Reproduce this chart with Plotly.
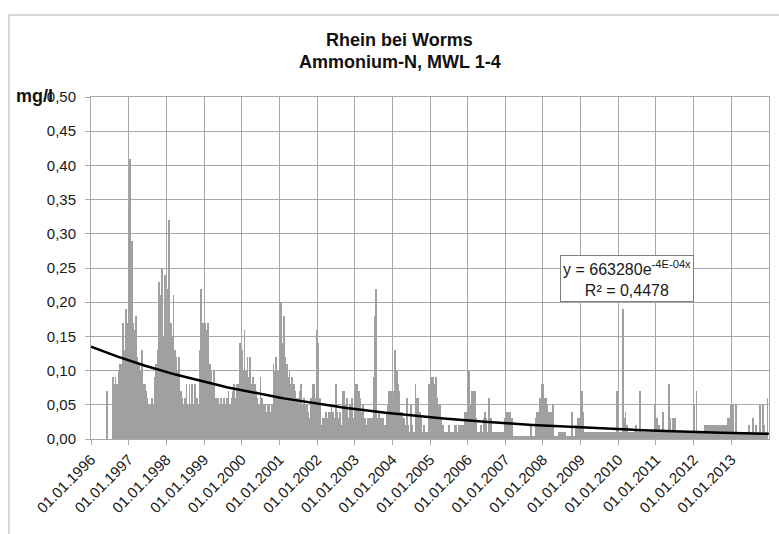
import numpy as np
import pandas as pd
import plotly.graph_objects as go

# Ammonium-N concentrations (mg/l), fortnightly samples, one list per calendar year
v1996 = [None, None, None, None, None, None, None, None, None, None, None,
         0.07, None, None, None,
         0.09, 0.08, 0.09, 0.08, 0.10, 0.11, 0.11, 0.17, 0.13, 0.19, 0.17]
v1997 = [0.34, 0.41, 0.29, 0.17, 0.16, 0.18, 0.12, 0.11, 0.10, 0.13, 0.08, 0.08, 0.07,
         0.06, 0.05, 0.05, 0.06, 0.05, 0.09, 0.11, 0.13, 0.23, 0.21, 0.25, 0.15, 0.24]
v1998 = [0.16, 0.22, 0.32, 0.17, 0.15, 0.21, 0.13, 0.12, 0.10, 0.12, 0.07, 0.06, 0.05,
         0.06, 0.08, 0.05, 0.08, 0.05, 0.08, 0.05, 0.08, 0.06, 0.05, 0.13, 0.22, 0.17]
v1999 = [0.17, 0.17, 0.16, 0.17, 0.11, 0.10, 0.08, 0.10, 0.06, 0.06, 0.06, 0.05, 0.06,
         0.05, 0.06, 0.05, 0.06, 0.07, 0.05, 0.06, 0.07, 0.08, 0.06, 0.08, 0.08, 0.14]
v2000 = [0.13, 0.10, 0.16, 0.10, 0.12, 0.09, 0.12, 0.08, 0.09, 0.08, 0.07, 0.06, 0.05,
         0.09, 0.06, 0.05, 0.05, 0.04, 0.05, 0.05, 0.04, 0.05, 0.11, 0.10, 0.12, 0.10]
v2001 = [0.18, 0.20, 0.14, 0.18, 0.12, 0.11, 0.09, 0.10, 0.08, 0.09, 0.08, 0.07, 0.06,
         0.06, 0.07, 0.08, 0.05, 0.06, 0.05, 0.05, 0.04, 0.03, 0.06, 0.08, 0.08, 0.06]
v2002 = [0.16, 0.14, 0.06, 0.02, 0.03, 0.03, 0.04, 0.03, 0.04, 0.04, 0.05, 0.04, 0.03,
         0.08, 0.04, 0.03, 0.04, 0.02, 0.07, 0.07, 0.05, 0.06, 0.03, 0.05, 0.06, 0.03]
v2003 = [0.07, 0.08, 0.08, 0.07, 0.06, 0.04, 0.05, 0.03, 0.02, 0.03, 0.03, 0.03, 0.03,
         0.09, 0.18, 0.22, 0.03, 0.04, 0.03, 0.03, 0.03, 0.02, 0.04, 0.05, 0.07, 0.07]
v2004 = [0.06, 0.07, 0.13, 0.10, 0.08, 0.07, 0.04, 0.04, 0.03, 0.02, 0.06, 0.02, 0.01,
         0.05, 0.02, 0.01, 0.08, 0.06, 0.06, 0.04, 0.03, 0.01, 0.02, 0.01, 0.01, 0.08]
v2005 = [0.08, 0.09, 0.09, 0.08, 0.09, 0.06, 0.05, 0.05, 0.03, 0.02, 0.01, 0.01, 0.01,
         0.02, 0.01, 0.01, 0.01, 0.02, 0.02, 0.01, 0.02, 0.02, 0.02, 0.02, 0.04, 0.04]
v2006 = [0.10, 0.10, 0.05, 0.07, 0.07, 0.07, 0.03, 0.01, 0.01, 0.02, 0.01, 0.03, 0.04,
         0.03, 0.01, 0.06, 0.03, 0.01, 0.01, 0.01, 0.01, 0.01, 0.01, 0.01, 0.01, 0.01]
v2007 = [0.03, 0.04, 0.04, 0.04, 0.03, 0.03, 0.005, 0.005, 0.005, 0.005, 0.005, 0.005, 0.005,
         0.005, 0.005, 0.005, 0.005, 0.005, 0.02, 0.005, 0.005, 0.03, 0.04, 0.04, 0.06, 0.08]
v2008 = [0.08, 0.06, 0.06, 0.05, 0.04, 0.04, 0.04, 0.05, 0.005, 0.005, 0.005, 0.01, 0.01,
         0.01, 0.01, 0.01, 0.005, 0.005, 0.005, 0.005, 0.04, 0.005, 0.005, 0.02, 0.03, 0.03]
v2009 = [0.07, 0.07, 0.04, 0.01, 0.01, 0.01, 0.01, 0.01, 0.01, 0.01, 0.01, 0.01, 0.01,
         0.01, 0.01, 0.01, 0.01, 0.01, 0.01, 0.01, 0.01, 0.01, 0.01, 0.01, 0.01, 0.07]
v2010 = [0.01, 0.01, 0.01, 0.19, 0.03, 0.04, 0.02, 0.01, 0.01, 0.01, 0.01, 0.01, 0.02,
         0.01, 0.01, 0.07, 0.01, 0.01, 0.01, 0.01, 0.01, 0.01, 0.01, 0.01, 0.01, 0.05]
v2011 = [0.03, 0.03, 0.02, 0.01, 0.01, 0.04, 0.01, 0.01, 0.01, 0.08, 0.03, 0.01, 0.03,
         0.03, 0.01, 0.01, 0.01, 0.01, 0.01, 0.01, 0.01, 0.01, 0.01, 0.01, 0.01, 0.01]
v2012 = [0.05, 0.01, 0.07, 0.01, 0.01, 0.01, 0.01, 0.01, 0.02, 0.02, 0.02, 0.02, 0.02,
         0.02, 0.02, 0.02, 0.02, 0.02, 0.02, 0.02, 0.02, 0.02, 0.02, 0.02, 0.03, 0.03]
v2013 = [0.05, 0.05, 0.01, 0.05, 0.01, 0.01, 0.01, 0.01, 0.01, 0.01, 0.01, 0.01, 0.02,
         0.01, 0.01, 0.03, 0.01, 0.02, 0.01, 0.01, 0.05, 0.01, 0.05, 0.02, 0.01, 0.06]

years = list(range(1996, 2014))
yearly = [v1996, v1997, v1998, v1999, v2000, v2001, v2002, v2003, v2004,
          v2005, v2006, v2007, v2008, v2009, v2010, v2011, v2012, v2013]

tick_years = list(range(1996, 2014))
tick_labels = [f"01.01.{y}" for y in tick_years]

# exponential trend line y = a * e^(-k x), x = spreadsheet date serial
trend_a = 663280
trend_k = 4.394e-4
trend_text = "y = 663280e<sup>-4E-04x</sup><br>R² = 0,4478"

sample_step_days = 14
dates, values = [], []
for yr, vals in zip(years, yearly):
    start = pd.Timestamp(year=yr, month=1, day=1)
    for i, v in enumerate(vals):
        if v is None:
            continue
        dates.append(start + pd.Timedelta(days=sample_step_days * i))
        values.append(v)

trend_dates = pd.date_range("1996-01-01", "2014-01-01", freq="7D")
serial = (trend_dates - pd.Timestamp("1899-12-30")).days.values
trend_y = trend_a * np.exp(-trend_k * serial)

FONT = "Liberation Sans, Arial, sans-serif"
GRID = "#a8a8a8"
bar_width_ms = sample_step_days * 0.55 * 24 * 3600 * 1000

fig = go.Figure()
fig.add_trace(go.Bar(
    x=dates, y=values, width=bar_width_ms,
    marker=dict(color="#a0a0a0", line=dict(width=0)),
    showlegend=False,
))
fig.add_trace(go.Scatter(
    x=trend_dates, y=trend_y, mode="lines",
    line=dict(color="#000000", width=2.5),
    showlegend=False,
))

L, R, T, B = 91, 10, 97, 95
W, H = 779, 534
pw, ph = W - L - R, H - T - B


def px(x):
    return (x - L) / pw


def py(y):
    return (H - B - y) / ph


fig.update_layout(
    width=W, height=H,
    margin=dict(l=L, r=R, t=T, b=B),
    paper_bgcolor="white", plot_bgcolor="white",
    separators=",.",
    font=dict(family=FONT, color="#1a1a1a"),
    bargap=0,
    xaxis=dict(
        type="date",
        range=["1996-01-01", "2014-01-01"],
        tickvals=[pd.Timestamp(year=y, month=1, day=1) for y in tick_years],
        ticktext=tick_labels,
        tickangle=-45,
        tickfont=dict(size=15, family=FONT, color="#1a1a1a"),
        showgrid=True, gridcolor=GRID, gridwidth=1,
        showline=True, linecolor=GRID, linewidth=1, mirror=True,
        ticks="outside", ticklen=5, tickcolor=GRID,
        zeroline=False,
    ),
    yaxis=dict(
        range=[0, 0.5], dtick=0.05, tick0=0, tickformat=".2f",
        tickfont=dict(size=15, family=FONT, color="#1a1a1a"),
        showgrid=True, gridcolor=GRID, gridwidth=1,
        showline=True, linecolor=GRID, linewidth=1, mirror=True,
        ticks="outside", ticklen=5, tickcolor=GRID,
        ticklabelstandoff=6,
        zeroline=False,
    ),
    shapes=[
        dict(type="line", xref="paper", yref="paper",
             x0=px(9), x1=px(W + 5), y0=py(15), y1=py(15),
             line=dict(color="#b0b0b0", width=1)),
        dict(type="line", xref="paper", yref="paper",
             x0=px(9), x1=px(9), y0=py(15), y1=py(H + 5),
             line=dict(color="#b0b0b0", width=1)),
    ],
    annotations=[
        dict(text="<b>Rhein bei Worms</b>", xref="paper", yref="paper",
             x=px(399.5), y=py(40), xanchor="center", yanchor="middle",
             showarrow=False, font=dict(size=18, family=FONT, color="#111")),
        dict(text="<b>Ammonium-N, MWL 1-4</b>", xref="paper", yref="paper",
             x=px(399.5), y=py(62), xanchor="center", yanchor="middle",
             showarrow=False, font=dict(size=18, family=FONT, color="#111")),
        dict(text="<b>mg/l</b>", xref="paper", yref="paper",
             x=px(34.5), y=py(96), xanchor="center", yanchor="middle",
             showarrow=False, font=dict(size=18, family=FONT, color="#111")),
        dict(text=trend_text, xref="paper", yref="paper",
             x=px(627), y=py(278.5), xanchor="center", yanchor="middle",
             showarrow=False, align="center",
             bgcolor="white", bordercolor="#808080", borderwidth=1, borderpad=2,
             font=dict(size=16, family=FONT, color="#1a1a1a")),
    ],
)

fig.write_html("out.html")
